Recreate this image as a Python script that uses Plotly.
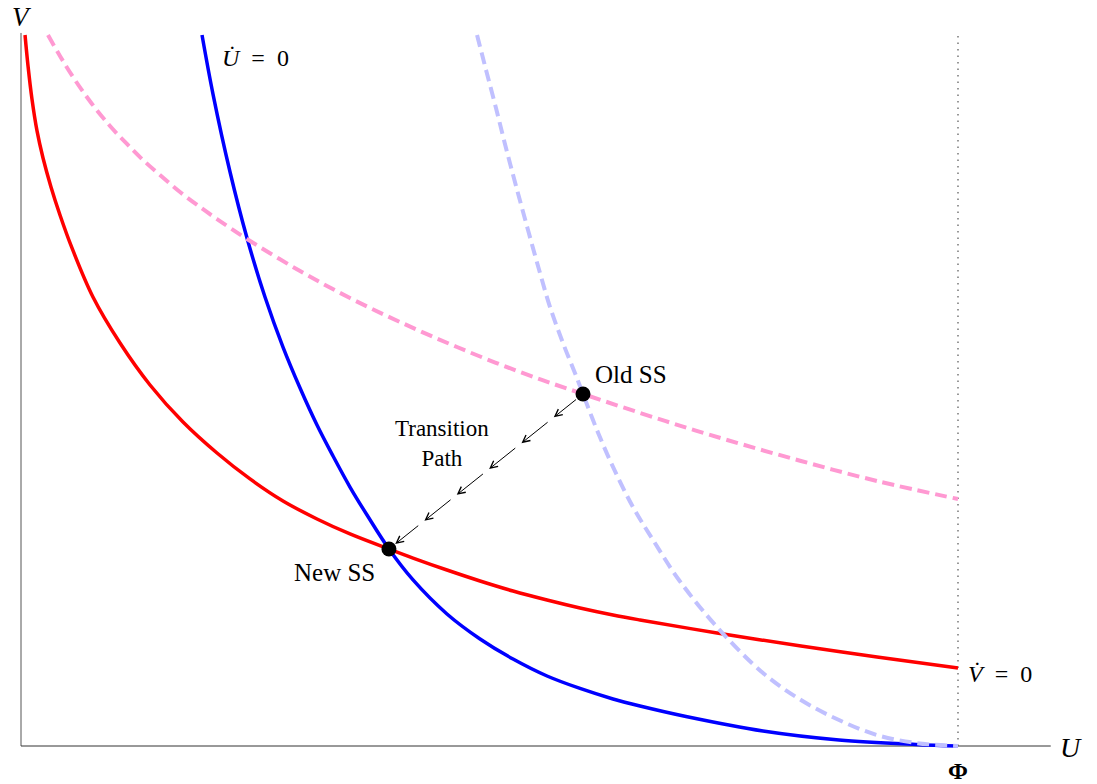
import numpy as np
import plotly.graph_objects as go

# Matching-model phase diagram in (U, V) space; U runs from 0 to PHI.
PHI = 10.0
V_TOP = 7.61
U_END = 10.99

# New V-dot = 0 locus
vdot_new_u = [0.043, 0.075, 0.117, 0.171, 0.235, 0.320, 0.416, 0.544, 0.768, 1.057,
              1.377, 1.729, 2.092, 2.444, 2.796, 3.159, 3.511, 3.927, 4.184, 4.546,
              4.899, 5.251, 5.614, 5.966, 6.318, 6.606, 7.428, 8.324, 9.136, 10.0]
vdot_new_v = [7.588, 7.257, 6.905, 6.564, 6.275, 5.966, 5.667, 5.315, 4.792, 4.301,
              3.853, 3.458, 3.127, 2.850, 2.615, 2.423, 2.263, 2.102, 2.006, 1.878,
              1.761, 1.654, 1.558, 1.473, 1.398, 1.345, 1.206, 1.067, 0.950, 0.832]

# New U-dot = 0 locus
udot_new_u = [1.932, 2.049, 2.231, 2.412, 2.604, 2.796, 2.978, 3.159, 3.330, 3.511,
              3.693, 3.927, 4.184, 4.546, 4.899, 5.251, 5.614, 5.966, 6.318, 6.606,
              7.097, 7.919, 8.730, 9.552, 10.0]
udot_new_v = [7.588, 6.958, 6.126, 5.422, 4.792, 4.258, 3.821, 3.426, 3.095, 2.764,
              2.465, 2.102, 1.772, 1.409, 1.142, 0.928, 0.747, 0.614, 0.502, 0.427,
              0.315, 0.160, 0.064, 0.016, 0.0]

# Old V-dot = 0 locus (before the shift)
vdot_old_u = [0.288, 0.416, 0.576, 0.758, 0.950, 1.131, 1.302, 1.483, 1.697, 1.910,
              2.092, 2.412, 2.978, 3.511, 4.045, 4.653, 5.326, 5.998, 6.873, 7.503,
              8.324, 9.136, 10.0]
vdot_old_v = [7.588, 7.364, 7.108, 6.852, 6.617, 6.425, 6.254, 6.094, 5.912, 5.752,
              5.624, 5.411, 5.069, 4.781, 4.525, 4.258, 3.991, 3.757, 3.469, 3.276,
              3.042, 2.828, 2.636]

# Old U-dot = 0 locus (before the shift)
udot_old_u = [4.867, 4.963, 5.069, 5.176, 5.283, 5.411, 5.539, 5.646, 5.784, 5.912,
              5.998, 6.147, 6.318, 6.531, 6.745, 7.022, 7.428, 7.919, 8.324, 8.730,
              9.136, 9.552, 10.0]
udot_old_v = [7.588, 7.215, 6.809, 6.382, 5.977, 5.507, 5.048, 4.685, 4.301, 3.981,
              3.757, 3.372, 2.978, 2.551, 2.199, 1.772, 1.270, 0.779, 0.491, 0.277,
              0.117, 0.032, 0.0]

# Steady states
old_ss = [5.998, 3.757]
new_ss = [3.927, 2.102]

SERIF = "Liberation Serif, Times New Roman, serif"
PX = 93.7  # pixels per data unit

fig = go.Figure()

def curve(u, v, color, width, dash="solid"):
    fig.add_trace(go.Scatter(x=u, y=v, mode="lines",
                             line=dict(color=color, width=width, dash=dash,
                                       shape="spline", smoothing=1.0),
                             hoverinfo="skip"))

curve(vdot_new_u, vdot_new_v, "#ff0000", 3.5)
curve(udot_new_u, udot_new_v, "#0000ff", 3.5)
curve(udot_old_u, udot_old_v, "rgb(192,192,255)", 4, "12px,6px")
curve(vdot_old_u, vdot_old_v, "rgb(255,153,210)", 4, "12px,6px")

# Steady-state markers
fig.add_trace(go.Scatter(x=[old_ss[0], new_ss[0]], y=[old_ss[1], new_ss[1]], mode="markers",
                         marker=dict(color="black", size=15), hoverinfo="skip"))

# Axes drawn as plain lines
fig.add_shape(type="line", x0=0, x1=0, y0=0, y1=V_TOP, line=dict(color="#555555", width=1),
              layer="below")
fig.add_shape(type="line", x0=0, x1=U_END, y0=0, y1=0, line=dict(color="#333333", width=1),
              layer="below")
fig.add_shape(type="line", x0=PHI, x1=PHI, y0=0, y1=V_TOP, line=dict(color="#555555", width=1.2,
              dash="1.5px,5px"), layer="below")

# Transition path: a chain of short arrows from the old to the new steady state
n_steps = 6
path_u = np.linspace(old_ss[0], new_ss[0], n_steps + 1)
path_v = np.linspace(old_ss[1], new_ss[1], n_steps + 1)
for k in range(n_steps):
    fig.add_annotation(x=path_u[k + 1], y=path_v[k + 1], ax=path_u[k], ay=path_v[k],
                       xref="x", yref="y", axref="x", ayref="y", text="",
                       showarrow=True, arrowhead=5, arrowsize=1.4, arrowwidth=1,
                       arrowcolor="black",
                       standoff=8 if k == n_steps - 1 else 4,
                       startstandoff=7 if k == 0 else 2)

def label(text, x, y, size, xanchor="center", yanchor="middle"):
    fig.add_annotation(x=x, y=y, xref="x", yref="y", text=text, showarrow=False,
                       xanchor=xanchor, yanchor=yanchor,
                       font=dict(family=SERIF, size=size, color="black"))

label("Old SS", 6.105, 3.97, 25, xanchor="left")
label("New SS", 3.346, 1.857, 25)
label("Transition<br>Path", 4.493, 3.228, 23)
label("<i>U\u0307</i>\u2002=\u20020", 2.125, 7.343, 24, xanchor="left")
label("<i>V\u0307</i>\u2002=\u20020", 10.08, 0.765, 24, xanchor="left")
label("<i>V</i>", 0.011, 746 / PX, 27, yanchor="top")
label("<i>U</i>", 11.206, -0.021, 28)
label("<b>\u03a6</b>", 10.0, -0.267, 24)

fig.update_layout(
    width=1097, height=784,
    margin=dict(l=0, r=0, t=0, b=0),
    paper_bgcolor="white", plot_bgcolor="white",
    showlegend=False,
    xaxis=dict(range=[-21 / PX, (1097 - 21) / PX], visible=False, fixedrange=True),
    yaxis=dict(range=[(746 - 784) / PX, 746 / PX], visible=False, fixedrange=True),
)

fig.write_html("out.html")
